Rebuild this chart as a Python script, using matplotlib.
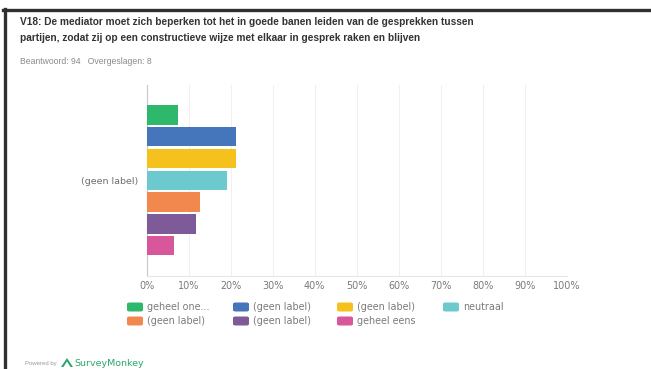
import matplotlib.pyplot as plt
from matplotlib.patches import FancyBboxPatch, Polygon
from matplotlib.lines import Line2D

# answer counts per option (94 respondents)
labels = ['geheel one...', '(geen label)', '(geen label)', 'neutraal',
          '(geen label)', '(geen label)', 'geheel eens']
counts = [7, 20, 20, 18, 12, 11, 6]
answered = 94
skipped = 8
colors = ['#2db86c', '#4575bb', '#f5c11c', '#6cc9cd', '#f3884f', '#7e5a99', '#d8579a']
xticks = list(range(0, 101, 10))

pct = [c / answered * 100 for c in counts]

W, H = 651, 369
fig = plt.figure(figsize=(W / 100, H / 100), dpi=100)
fig.patch.set_facecolor('white')

def fx(px):
    return px / W

def fy(py):
    return 1 - py / H

# frame lines at top and left
fig.add_artist(Line2D([fx(3), fx(651)], [fy(9.5), fy(9.5)], color='#303030', lw=2.4))
fig.add_artist(Line2D([fx(4.5), fx(4.5)], [fy(8.5), fy(369)], color='#303030', lw=2.4))

fig.text(fx(20), fy(22), 'V18: De mediator moet zich beperken tot het in goede banen leiden van de gesprekken tussen',
         fontsize=7.3, fontweight='bold', family='Liberation Sans', color='#333333', va='center')
fig.text(fx(20), fy(38), 'partijen, zodat zij op een constructieve wijze met elkaar in gesprek raken en blijven',
         fontsize=7.3, fontweight='bold', family='Liberation Sans', color='#333333', va='center')
fig.text(fx(20), fy(62), f'Beantwoord: {answered}   Overgeslagen: {skipped}',
         fontsize=6.2, family='Liberation Sans', color='#8a8a8a', va='center')

ax = fig.add_axes([fx(146.7), fy(275.5), (566.7 - 146.7) / W, (275.5 - 85) / H])
ypos = list(range(len(pct)))
ax.barh(ypos, pct, height=0.89, color=colors, zorder=3)
ax.set_xlim(0, 100)
ax.set_ylim(len(pct) - 1 + 1.37, -1.37)

ax.set_xticks(xticks)
ax.set_xticklabels([f'{t}%' for t in xticks])
ax.set_yticks([3])
ax.set_yticklabels(['(geen label)'])
ax.tick_params(axis='x', length=0, labelsize=6.9, colors='#7a7a7a', pad=4)
ax.tick_params(axis='y', length=0, labelsize=6.8, colors='#6e6e6e', pad=6)
for t in ax.get_xticklabels() + ax.get_yticklabels():
    t.set_family('DejaVu Sans')

ax.grid(axis='x', color='#f0f0f0', lw=0.8, zorder=0)
for s in ['top', 'right']:
    ax.spines[s].set_visible(False)
ax.spines['left'].set_color('#c8c8c8')
ax.spines['left'].set_linewidth(0.8)
ax.spines['bottom'].set_color('#e6e6e6')
ax.spines['bottom'].set_linewidth(0.8)

# legend, laid out row by row in four columns
col_x = [127, 233, 337, 443]
row_y = [307, 321]
for i, (lab, col) in enumerate(zip(labels, colors)):
    r, c = divmod(i, 4)
    x0, yc = col_x[c], row_y[r]
    fig.add_artist(FancyBboxPatch((fx(x0), fy(yc + 4.5)), fx(16), 9 / H,
                                  boxstyle='round,pad=0,rounding_size=0.004',
                                  transform=fig.transFigure, facecolor=col, edgecolor='none'))
    fig.text(fx(x0 + 20), fy(yc), lab, fontsize=6.9, family='DejaVu Sans',
             color='#7a7a7a', va='center')

# footer
fig.text(fx(25), fy(363), 'Powered by', fontsize=4.3, family='Liberation Sans',
         color='#999999', va='center')
fig.add_artist(Polygon([[fx(61), fy(367)], [fx(67), fy(358)], [fx(73), fy(367)],
                        [fx(70.5), fy(367)], [fx(67), fy(361.5)], [fx(63.5), fy(367)]],
                       closed=True, transform=fig.transFigure, facecolor='#2aa86a', edgecolor='none'))
fig.text(fx(74), fy(363), 'SurveyMonkey', fontsize=6.8, family='DejaVu Sans',
         color='#2aa86a', va='center')

fig.savefig('out.png', dpi=100)
